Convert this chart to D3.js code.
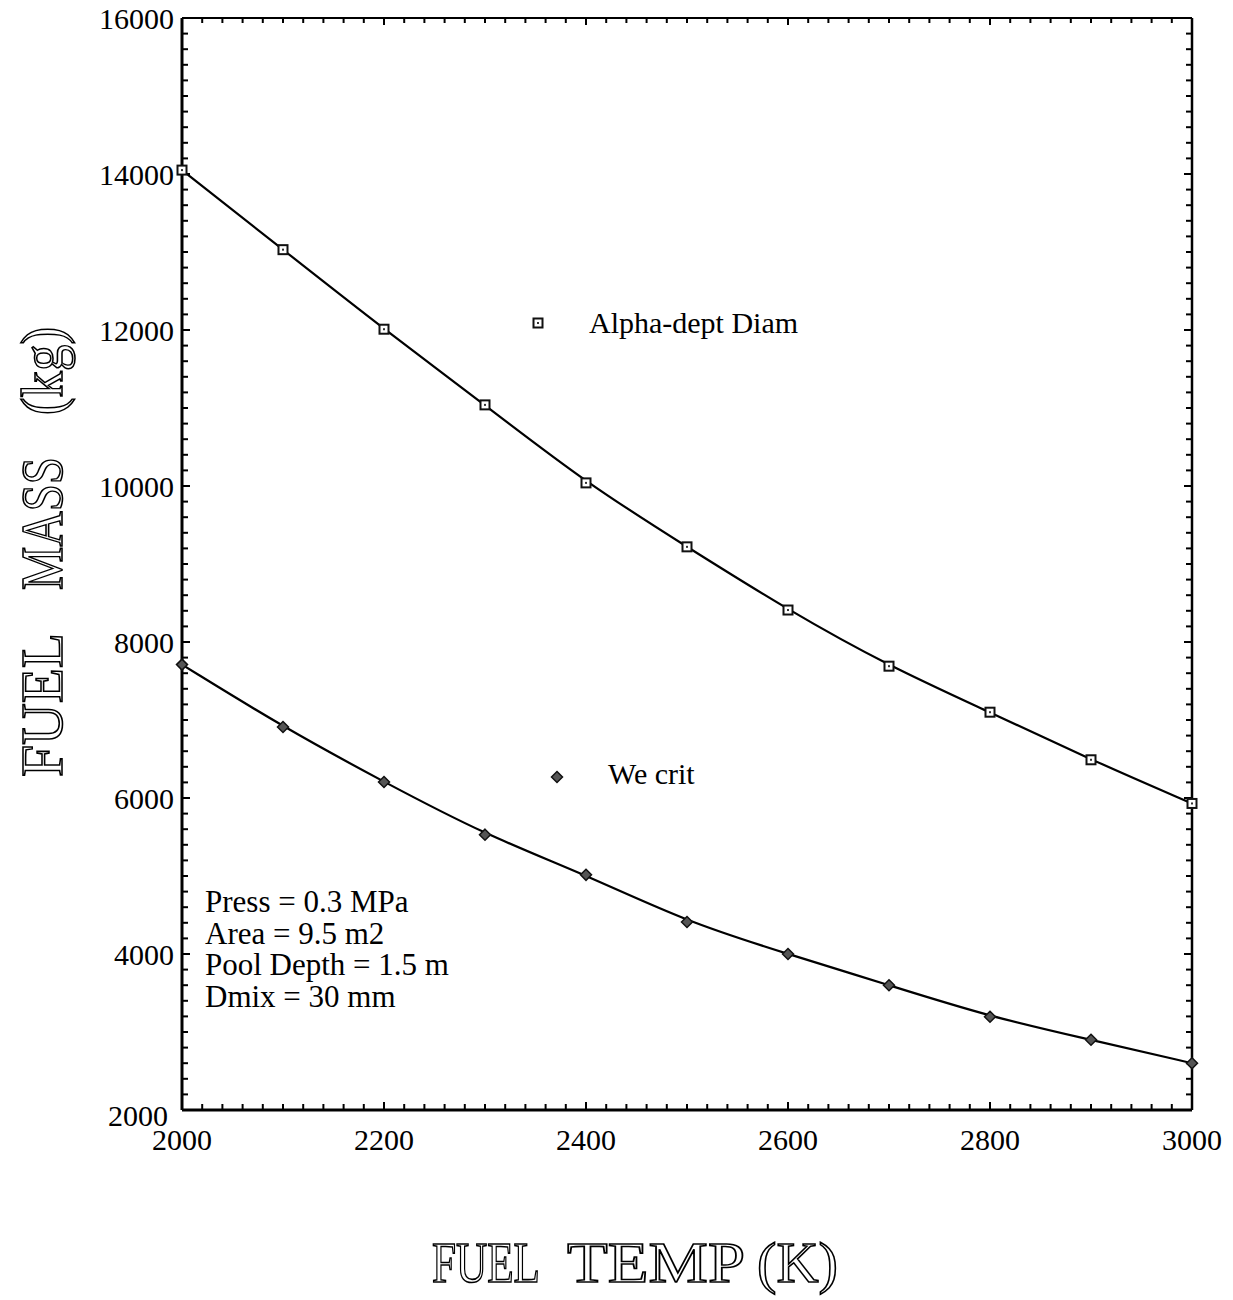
<!DOCTYPE html>
<html>
<head>
<meta charset="utf-8">
<script src="https://cdn.jsdelivr.net/npm/d3@7"></script>
<style>
html,body{margin:0;padding:0;background:#fff;}
svg{display:block;}
</style>
</head>
<body>
<svg id="chart" width="1233" height="1300"></svg>
<script>
const temps = [2000, 2100, 2200, 2300, 2400, 2500, 2600, 2700, 2800, 2900, 3000];
const alphaMass = [14050, 13030, 12010, 11040, 10040, 9220, 8410, 7690, 7100, 6490, 5930];
const weCritMass = [7710, 6910, 6205, 5530, 5015, 4410, 4000, 3600, 3195, 2900, 2600];
const xTicks = [2000, 2200, 2400, 2600, 2800, 3000];
const yTicks = [2000, 4000, 6000, 8000, 10000, 12000, 14000, 16000];
const seriesNames = ["Alpha-dept Diam", "We crit"];
const noteLines = ["Press = 0.3 MPa", "Area = 9.5 m2", "Pool Depth = 1.5 m", "Dmix = 30 mm"];
const xTitleWords = ["FUEL", "TEMP", "(K)"];
const yTitleWords = ["FUEL", "MASS", "(kg)"];

const svg = d3.select("#chart");
const L = 182, R = 1192, T = 18, B = 1110;
const x = d3.scaleLinear().domain([2000, 3000]).range([L, R]);
const y = d3.scaleLinear().domain([2000, 16000]).range([B, T]);
const serif = "'Liberation Serif','Times New Roman',serif";

// minor/major ticks (inward) on all four sides
const g = svg.append("g");
const xMinor = d3.range(2000, 3001, 20);
const yMinor = d3.range(2000, 16001, 200);
xMinor.forEach(v => {
  const major = v % 200 === 0;
  const len = major ? 8 : 6;
  g.append("line").attr("x1", x(v)).attr("x2", x(v)).attr("y1", B).attr("y2", B - len)
    .attr("stroke", "#000").attr("stroke-width", 2);
  g.append("line").attr("x1", x(v)).attr("x2", x(v)).attr("y1", T).attr("y2", T + len - 1)
    .attr("stroke", "#000").attr("stroke-width", 2);
});
yMinor.forEach(v => {
  const major = v % 2000 === 0;
  const len = major ? 8 : 6;
  g.append("line").attr("x1", L).attr("x2", L + len).attr("y1", y(v)).attr("y2", y(v))
    .attr("stroke", "#000").attr("stroke-width", 2);
  g.append("line").attr("x1", R).attr("x2", R - len).attr("y1", y(v)).attr("y2", y(v))
    .attr("stroke", "#000").attr("stroke-width", 2);
});

// frame
svg.append("line").attr("x1", L).attr("x2", L).attr("y1", T).attr("y2", B).attr("stroke", "#000").attr("stroke-width", 3);
svg.append("line").attr("x1", L).attr("x2", R).attr("y1", B).attr("y2", B).attr("stroke", "#000").attr("stroke-width", 3);
svg.append("line").attr("x1", L).attr("x2", R).attr("y1", T).attr("y2", T).attr("stroke", "#000").attr("stroke-width", 2);
svg.append("line").attr("x1", R).attr("x2", R).attr("y1", T).attr("y2", B).attr("stroke", "#000").attr("stroke-width", 2.5);

// tick labels
svg.append("g").selectAll("text").data(yTicks).join("text")
  .attr("x", d => d === 2000 ? L - 14 : L - 8).attr("y", d => y(d) + (d === 2000 ? 16 : 11))
  .attr("text-anchor", "end").attr("font-family", serif).attr("font-size", 30)
  .text(d => d);
svg.append("g").selectAll("text").data(xTicks).join("text")
  .attr("x", d => x(d)).attr("y", B + 40)
  .attr("text-anchor", "middle").attr("font-family", serif).attr("font-size", 30)
  .text(d => d);

// curves
const line = d3.line().x(d => x(d[0])).y(d => y(d[1])).curve(d3.curveBasis);
const alphaPts = temps.map((t, i) => [t, alphaMass[i]]);
const wePts = temps.map((t, i) => [t, weCritMass[i]]);
[alphaPts, wePts].forEach(pts => {
  svg.append("path").attr("d", line(pts)).attr("fill", "none").attr("stroke", "#000").attr("stroke-width", 2.2);
});

// markers
function square(sel, cx, cy) {
  sel.append("rect").attr("x", cx - 4.5).attr("y", cy - 4.5).attr("width", 9).attr("height", 9)
    .attr("fill", "#fff").attr("stroke", "#111").attr("stroke-width", 2);
  sel.append("rect").attr("x", cx - 1).attr("y", cy - 1).attr("width", 2).attr("height", 2).attr("fill", "#333");
}
function diamond(sel, cx, cy) {
  sel.append("path").attr("d", `M${cx},${cy - 5.5}L${cx + 5.5},${cy}L${cx},${cy + 5.5}L${cx - 5.5},${cy}Z`)
    .attr("fill", "#555").attr("stroke", "#111").attr("stroke-width", 1.5);
}
const mk = svg.append("g");
alphaPts.forEach(p => square(mk, x(p[0]), y(p[1])));
wePts.forEach(p => diamond(mk, x(p[0]), y(p[1])));

// legend entries
square(mk, 538, 323);
svg.append("text").attr("x", 589).attr("y", 333).attr("font-family", serif).attr("font-size", 30).text(seriesNames[0]);
diamond(mk, 557, 777);
svg.append("text").attr("x", 608).attr("y", 784).attr("font-family", serif).attr("font-size", 30).text(seriesNames[1]);

// notes
svg.append("g").selectAll("text").data(noteLines).join("text")
  .attr("x", 205).attr("y", (d, i) => 912 + i * 31.6)
  .attr("font-family", serif).attr("font-size", 31).text(d => d);

// axis titles (outlined, engraved look)
const xPos = [[432, 108], [567, 178], [757, 81]];
const xtg = svg.append("g");
xTitleWords.forEach((w, i) => {
  xtg.append("text").attr("x", xPos[i][0]).attr("y", 1282)
    .attr("font-family", serif).attr("font-size", 58).attr("fill", "#fff")
    .attr("stroke", "#000").attr("stroke-width", 1.6)
    .attr("textLength", xPos[i][1]).attr("lengthAdjust", "spacingAndGlyphs").text(w);
});
const yPos = [[-777, 144], [-590, 133], [-415, 88]];
const ytg = svg.append("g").attr("transform", "translate(62,0) rotate(-90)");
yTitleWords.forEach((w, i) => {
  ytg.append("text").attr("x", yPos[i][0]).attr("y", 0)
    .attr("font-family", serif).attr("font-size", 60).attr("fill", "#fff")
    .attr("stroke", "#000").attr("stroke-width", 1.6)
    .attr("textLength", yPos[i][1]).attr("lengthAdjust", "spacingAndGlyphs").text(w);
});
</script>
</body>
</html>
